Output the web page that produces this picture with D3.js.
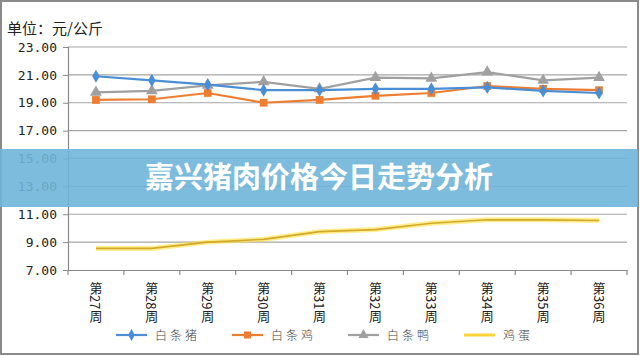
<!DOCTYPE html>
<html><head><meta charset="utf-8">
<script src="https://cdn.jsdelivr.net/npm/d3@7/dist/d3.min.js"></script>
<style>
html,body{margin:0;padding:0;background:#fff;}
svg{display:block;}
</style></head>
<body>
<svg id="c" width="640" height="356"></svg>
<script>
const weeks = ["第27周","第28周","第29周","第30周","第31周","第32周","第33周","第34周","第35周","第36周"];
const pork  = [20.9, 20.6, 20.3, 19.9, 19.9, 20.0, 20.0, 20.1, 19.85, 19.7];
const chicken = [19.2, 19.25, 19.7, 19.0, 19.2, 19.5, 19.7, 20.2, 20.0, 19.9];
const duck  = [19.75, 19.85, 20.25, 20.5, 20.0, 20.8, 20.75, 21.2, 20.6, 20.8];
const egg   = [8.55, 8.55, 9.0, 9.2, 9.75, 9.9, 10.35, 10.6, 10.6, 10.55];
const yTicks = [7, 9, 11, 13, 15, 17, 19, 21, 23];
const seriesNames = ["白条猪","白条鸡","白条鸭","鸡蛋"];
const unitLabel = "单位：元/公斤";
const bannerText = "嘉兴猪肉价格今日走势分析";

const svg = d3.select("#c");
const L = 68, R = 627, T = 47, B = 270;
const x = d3.scaleBand().domain(weeks).range([L, R]).padding(0);
const y = d3.scaleLinear().domain([7, 23]).range([B, T]);

// outer border
svg.append("rect").attr("x",1).attr("y",1).attr("width",637).attr("height",353)
  .attr("fill","#fff").attr("stroke","#8a8a8a").attr("stroke-width",2);

// unit label
svg.append("text").attr("x",7).attr("y",34).text(unitLabel)
  .attr("font-family","Noto Sans CJK SC").attr("font-size",15).attr("fill","#222");

// gridlines
svg.append("g").selectAll("line").data(yTicks.filter(d=>d!==7)).join("line")
  .attr("x1",L).attr("x2",R).attr("y1",d=>y(d)).attr("y2",d=>y(d))
  .attr("stroke","#a6a6a6").attr("stroke-width",1.2);

// y axis
const yAxis = d3.axisLeft(y).tickValues(yTicks).tickFormat(d3.format(".2f")).tickSize(5).tickPadding(6);
const gy = svg.append("g").attr("transform",`translate(${L},0)`).call(yAxis);
gy.select(".domain").attr("stroke","#8a8a8a").attr("stroke-width",1.2);
gy.selectAll(".tick line").attr("stroke","#8a8a8a");
gy.selectAll(".tick text").attr("font-family","DejaVu Sans Mono").attr("font-size",13).attr("fill","#222");

// x axis
const xAxis = d3.axisBottom(x).tickSize(0).tickFormat("");
const gx = svg.append("g").attr("transform",`translate(0,${B})`).call(xAxis);
gx.select(".domain").attr("stroke","#8a8a8a").attr("stroke-width",1.2);
// band-edge ticks
const edges = weeks.map(w=>x(w)).concat([R]);
svg.append("g").selectAll("line").data(edges).join("line")
  .attr("x1",d=>d).attr("x2",d=>d).attr("y1",B).attr("y2",B+5)
  .attr("stroke","#8a8a8a").attr("stroke-width",1.2);
// vertical labels
svg.append("g").selectAll("text").data(weeks).join("text")
  .attr("x",d=>x(d)+x.bandwidth()/2).attr("y",282)
  .attr("style","writing-mode: vertical-rl;")
  .attr("font-family","Noto Sans CJK SC").attr("font-size",13).attr("fill","#222")
  .text(d=>d);

const cx = (d,i)=>x(weeks[i])+x.bandwidth()/2;
const line = d3.line().x((d,i)=>cx(d,i)).y(d=>y(d));

// egg line with glow
const eggG = svg.append("g");
eggG.append("path").datum(egg).attr("d",line).attr("fill","none")
  .attr("stroke","#ffe033").attr("stroke-opacity",0.55).attr("stroke-width",5);
eggG.append("path").datum(egg).attr("d",line).attr("fill","none")
  .attr("stroke","#d4a82a").attr("stroke-width",1.6);

const series = [
  {data: duck, color:"#a0a0a0", shape:d3.symbolTriangle, size:60},
  {data: chicken, color:"#ed7d31", shape:d3.symbolSquare, size:60},
  {data: pork, color:"#4a8fd6", shape:d3.symbolDiamond, size:50},
];
series.forEach(s=>{
  svg.append("path").datum(s.data).attr("d",line).attr("fill","none")
    .attr("stroke",s.color).attr("stroke-width",2.2);
  svg.append("g").selectAll("path").data(s.data).join("path")
    .attr("transform",(d,i)=>`translate(${cx(d,i)},${y(d)})`)
    .attr("d",d3.symbol().type(s.shape).size(s.size)).attr("fill",s.color);
});

// banner
svg.append("rect").attr("x",0).attr("y",149).attr("width",638).attr("height",58)
  .attr("fill","#6fb5d8").attr("fill-opacity",0.9);
svg.append("text").attr("x",319).attr("y",188).attr("text-anchor","middle")
  .attr("font-family","Noto Sans CJK SC").attr("font-weight",700).attr("font-size",29)
  .attr("fill","#fff").text(bannerText);

// legend
const legend = [
  {name:seriesNames[0], color:"#4a8fd6", shape:d3.symbolDiamond, size:40, x1:116},
  {name:seriesNames[1], color:"#ed7d31", shape:d3.symbolSquare, size:50, x1:232},
  {name:seriesNames[2], color:"#a0a0a0", shape:d3.symbolTriangle, size:45, x1:348},
  {name:seriesNames[3], color:"#ffd23a", shape:null, size:0, x1:464},
];
const ly = 335;
const lg = svg.append("g").selectAll("g").data(legend).join("g");
lg.append("line").attr("x1",d=>d.x1).attr("x2",d=>d.x1+31).attr("y1",ly).attr("y2",ly)
  .attr("stroke",d=>d.color).attr("stroke-width",d=>d.shape?2.2:3);
lg.filter(d=>d.shape).append("path")
  .attr("transform",d=>`translate(${d.x1+15.5},${ly})`)
  .attr("d",d=>d3.symbol().type(d.shape).size(d.size)()).attr("fill",d=>d.color);
lg.append("text").attr("x",d=>d.x1+39).attr("y",ly+5)
  .attr("font-family","Noto Sans CJK SC").attr("font-weight",300).attr("font-size",12)
  .attr("letter-spacing",3).attr("fill","#444").text(d=>d.name);
</script>
</body></html>
